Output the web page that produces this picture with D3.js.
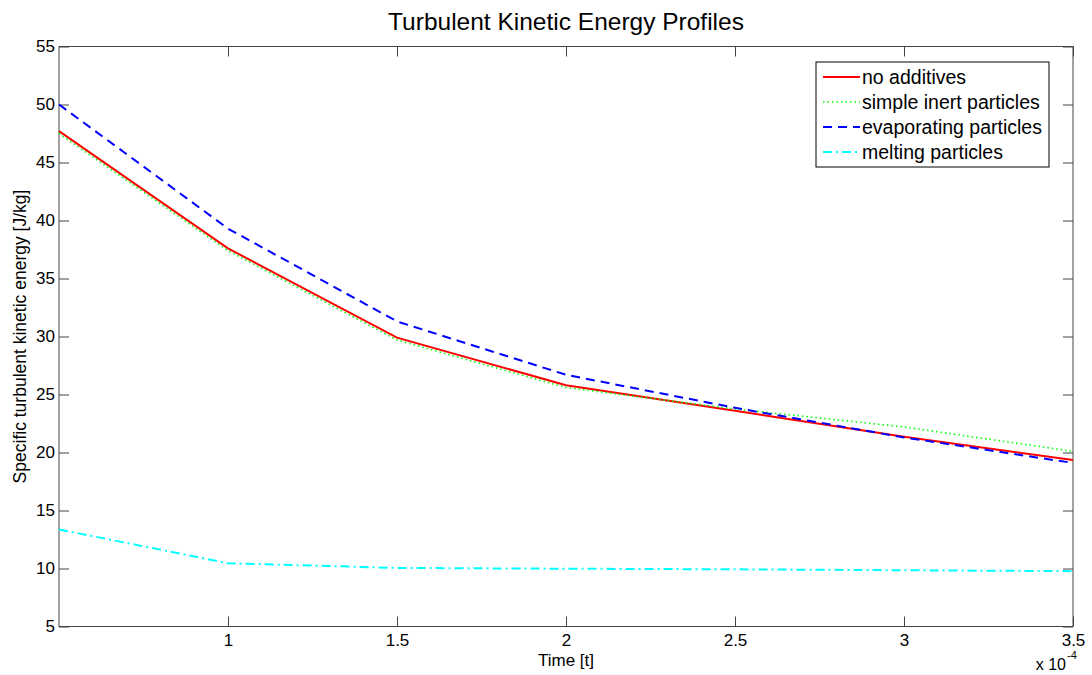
<!DOCTYPE html>
<html>
<head>
<meta charset="utf-8">
<script src="https://cdn.jsdelivr.net/npm/d3@7"></script>
<style>
  body { margin: 0; background: #fff; }
  text { font-family: "Liberation Sans", Arial, sans-serif; fill: #000; }
</style>
</head>
<body>
<script>
const width = 1092,
  height = 675;

// time in units of 1e-4
const times = [0.5, 1.0, 1.5, 2.0, 2.5, 3.0, 3.5];
const noAdditives = [47.7, 37.6, 29.9, 25.8, 23.6, 21.35, 19.35];
const inertParticles = [47.5, 37.4, 29.7, 25.6, 23.75, 22.2, 20.1];
const evapParticles = [50.0, 39.3, 31.3, 26.7, 23.85, 21.3, 19.1];
const meltParticles = [13.37, 10.45, 10.05, 9.98, 9.93, 9.85, 9.77];

const seriesNames = ["no additives", "simple inert particles", "evaporating particles", "melting particles"];
const xTicks = [1, 1.5, 2, 2.5, 3, 3.5];
const yTicks = [5, 10, 15, 20, 25, 30, 35, 40, 45, 50, 55];

const margin = { top: 46.5, right: 19, bottom: 48.5, left: 59 };

const series = [
  { name: seriesNames[0], values: noAdditives, color: "#ff0000", dash: null, w: 2 },
  { name: seriesNames[1], values: inertParticles, color: "#00ff00", dash: "1.5,3", w: 1.6 },
  { name: seriesNames[2], values: evapParticles, color: "#0000ff", dash: "9,6", w: 2 },
  { name: seriesNames[3], values: meltParticles, color: "#00ffff", dash: "9,4,2,4", w: 2 }
];

const x = d3.scaleLinear().domain([0.5, 3.5]).range([margin.left, width - margin.right]);
const y = d3.scaleLinear().domain([5, 55]).range([height - margin.bottom, margin.top]);

const svg = d3.select("body").append("svg")
  .attr("width", width)
  .attr("height", height);

// box
svg.append("rect")
  .attr("x", x(0.5)).attr("y", y(55))
  .attr("width", x(3.5) - x(0.5)).attr("height", y(5) - y(55))
  .attr("fill", "none").attr("stroke", "#444").attr("stroke-width", 1);

// axes with inward ticks, mirrored on top/right
const tk = 10;
const gx = svg.append("g").attr("transform", `translate(0,${y(5)})`)
  .call(d3.axisBottom(x).tickValues(xTicks).tickSize(-tk).tickPadding(14).tickFormat(d3.format("")));
const gxt = svg.append("g").attr("transform", `translate(0,${y(55)})`)
  .call(d3.axisTop(x).tickValues(xTicks).tickSize(-tk).tickFormat(""));
const gy = svg.append("g").attr("transform", `translate(${x(0.5)},0)`)
  .call(d3.axisLeft(y).tickValues(yTicks).tickSize(-tk).tickPadding(4));
const gyr = svg.append("g").attr("transform", `translate(${x(3.5)},0)`)
  .call(d3.axisRight(y).tickValues(yTicks).tickSize(-tk).tickFormat(""));

[gx, gxt, gy, gyr].forEach(g => {
  g.select(".domain").remove();
  g.selectAll(".tick line").attr("stroke", "#444");
  g.selectAll(".tick text").style("font-size", "17px").attr("fill", "#000")
    .style("font-family", '"Liberation Sans", Arial, sans-serif');
});
gx.selectAll(".tick text").attr("dy", "0.35em");

// lines
const line = d3.line()
  .x((d, i) => x(times[i]))
  .y(d => y(d));

series.forEach(s => {
  svg.append("path")
    .datum(s.values)
    .attr("fill", "none")
    .attr("stroke", s.color)
    .attr("stroke-width", s.w)
    .attr("stroke-dasharray", s.dash)
    .attr("d", line);
});

// title and labels
svg.append("text")
  .attr("x", x(2)).attr("y", 30)
  .attr("text-anchor", "middle")
  .style("font-size", "24.5px")
  .text("Turbulent Kinetic Energy Profiles");

svg.append("text")
  .attr("x", x(2)).attr("y", 666)
  .attr("text-anchor", "middle")
  .style("font-size", "17px")
  .text("Time [t]");

svg.append("text")
  .attr("transform", `translate(26,${(y(5) + y(55)) / 2}) rotate(-90)`)
  .attr("text-anchor", "middle")
  .style("font-size", "17.5px")
  .text("Specific turbulent kinetic energy [J/kg]");

// exponent
svg.append("text")
  .attr("x", 1066).attr("y", 670)
  .attr("text-anchor", "end")
  .style("font-size", "16px")
  .text("x 10");
svg.append("text")
  .attr("x", 1067).attr("y", 659)
  .style("font-size", "11px")
  .text("-4");

// legend
const lg = svg.append("g").attr("transform", "translate(816,62)");
lg.append("rect")
  .attr("width", 233).attr("height", 105)
  .attr("fill", "#fff").attr("stroke", "#000").attr("stroke-width", 1);

series.forEach((s, i) => {
  const cy = 15 + i * 25;
  lg.append("line")
    .attr("x1", 7).attr("x2", 44)
    .attr("y1", cy).attr("y2", cy)
    .attr("stroke", s.color)
    .attr("stroke-width", s.w)
    .attr("stroke-dasharray", s.dash);
  lg.append("text")
    .attr("x", 46).attr("y", cy)
    .attr("dy", "0.35em")
    .style("font-size", "19.5px")
    .text(s.name);
});
</script>
</body>
</html>
